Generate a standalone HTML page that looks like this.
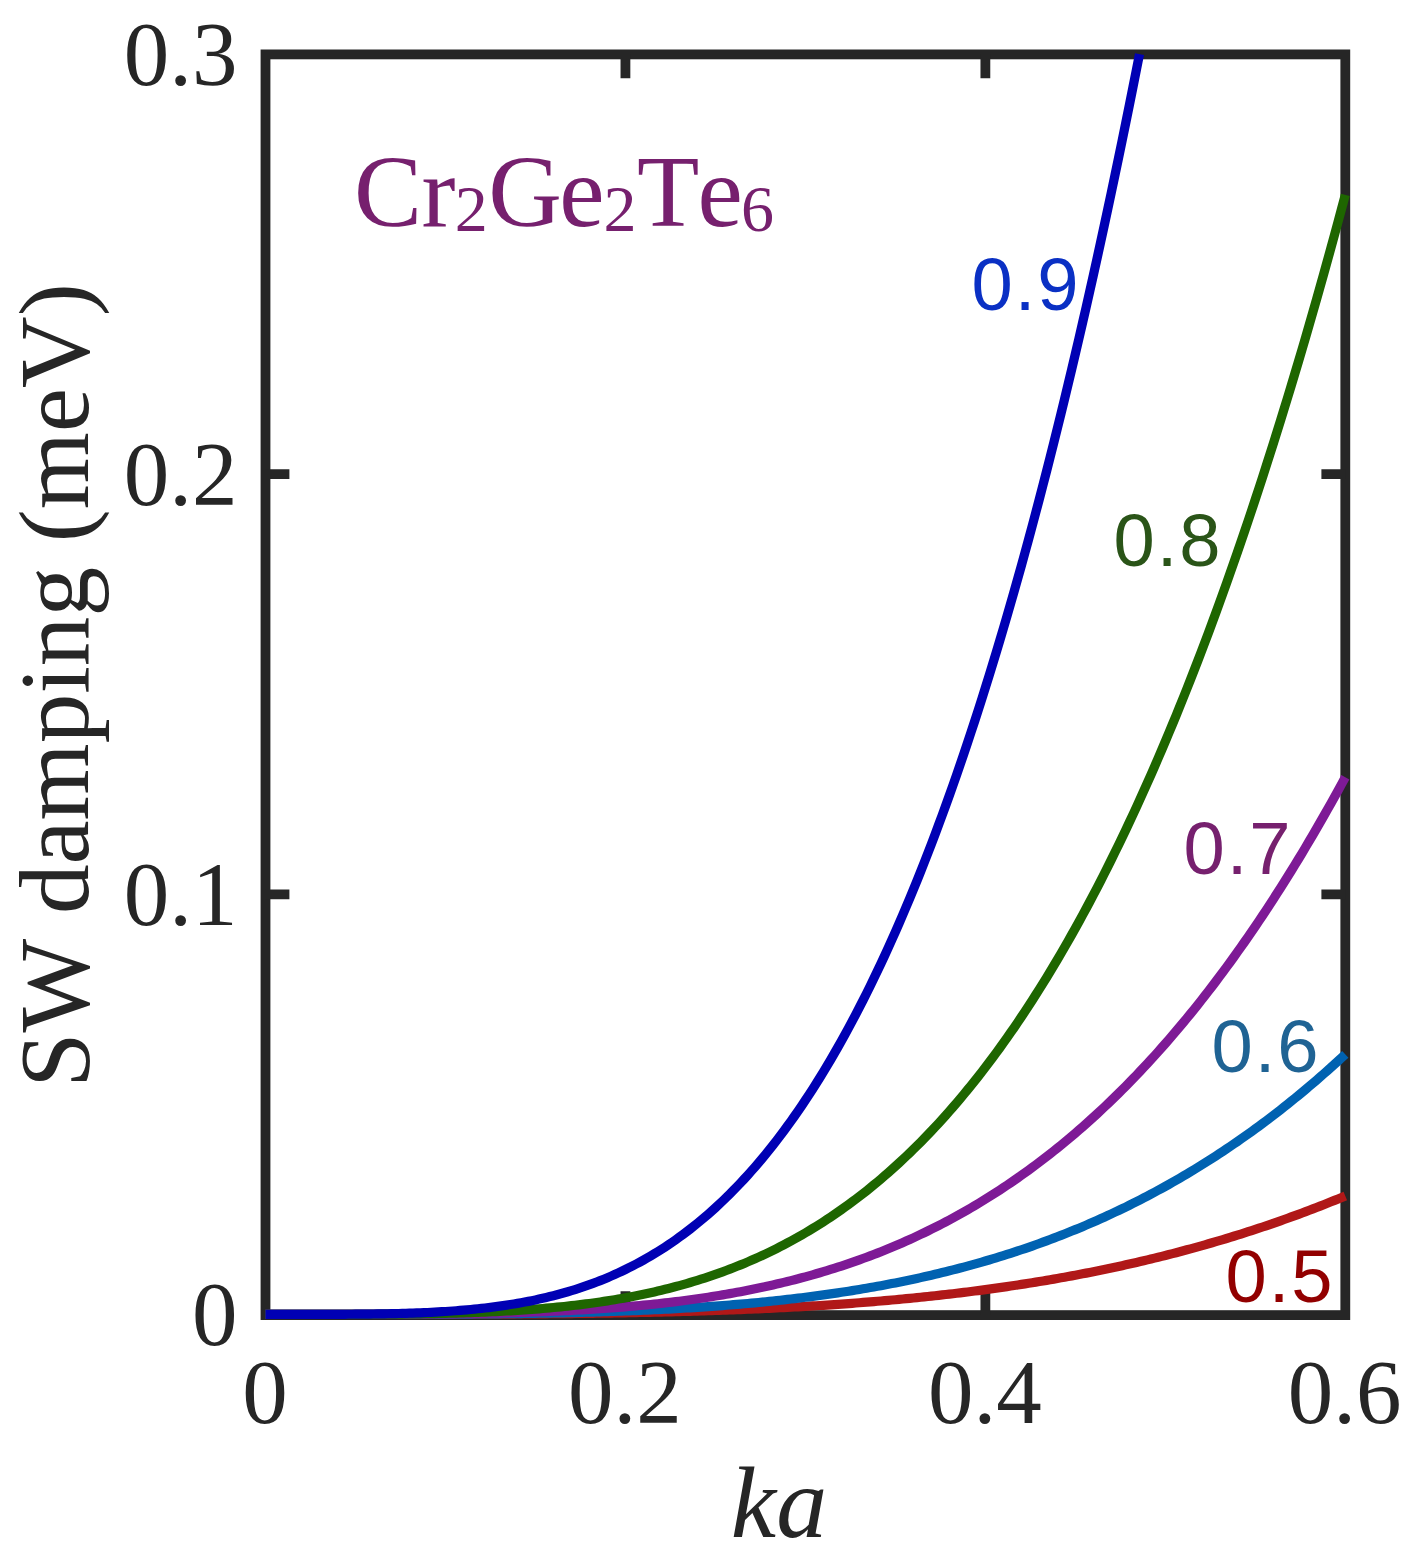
<!DOCTYPE html>
<html><head><meta charset="utf-8"><title>SW damping</title>
<style>html,body{margin:0;padding:0;background:#fff}svg{display:block}text{white-space:pre;font-kerning:none}</style></head><body>
<svg width="1415" height="1557" viewBox="0 0 1415 1557">
<rect width="1415" height="1557" fill="#fff"/>
<rect x="265.5" y="54.4" width="1079.8" height="1260.7" fill="none" stroke="#262626" stroke-width="9.8"/>
<path d="M625.43 1315.1 V1291.2 M625.43 54.4 V78.3 M985.37 1315.1 V1291.2 M985.37 54.4 V78.3 M265.5 894.30 H289.4 M1345.3 894.30 H1321.4 M265.5 474.20 H289.4 M1345.3 474.20 H1321.4" stroke="#262626" stroke-width="9.8" fill="none"/>
<path d="M265.50 1314.40 L269.10 1314.40 L272.70 1314.40 L276.30 1314.40 L279.90 1314.40 L283.50 1314.40 L287.10 1314.40 L290.70 1314.40 L294.29 1314.40 L297.89 1314.40 L301.49 1314.40 L305.09 1314.40 L308.69 1314.40 L312.29 1314.40 L315.89 1314.40 L319.49 1314.40 L323.09 1314.40 L326.69 1314.40 L330.29 1314.40 L333.89 1314.40 L337.49 1314.40 L341.09 1314.40 L344.69 1314.40 L348.28 1314.40 L351.88 1314.39 L355.48 1314.39 L359.08 1314.39 L362.68 1314.39 L366.28 1314.39 L369.88 1314.39 L373.48 1314.39 L377.08 1314.39 L380.68 1314.38 L384.28 1314.38 L387.88 1314.38 L391.48 1314.38 L395.08 1314.37 L398.68 1314.37 L402.27 1314.37 L405.87 1314.36 L409.47 1314.36 L413.07 1314.35 L416.67 1314.35 L420.27 1314.34 L423.87 1314.34 L427.47 1314.33 L431.07 1314.33 L434.67 1314.32 L438.27 1314.31 L441.87 1314.31 L445.47 1314.30 L449.07 1314.29 L452.67 1314.28 L456.26 1314.27 L459.86 1314.26 L463.46 1314.25 L467.06 1314.24 L470.66 1314.23 L474.26 1314.22 L477.86 1314.20 L481.46 1314.19 L485.06 1314.18 L488.66 1314.16 L492.26 1314.15 L495.86 1314.13 L499.46 1314.11 L503.06 1314.09 L506.66 1314.07 L510.25 1314.05 L513.85 1314.03 L517.45 1314.01 L521.05 1313.99 L524.65 1313.97 L528.25 1313.94 L531.85 1313.92 L535.45 1313.89 L539.05 1313.86 L542.65 1313.83 L546.25 1313.80 L549.85 1313.77 L553.45 1313.74 L557.05 1313.71 L560.65 1313.67 L564.24 1313.63 L567.84 1313.60 L571.44 1313.56 L575.04 1313.52 L578.64 1313.48 L582.24 1313.43 L585.84 1313.39 L589.44 1313.34 L593.04 1313.30 L596.64 1313.25 L600.24 1313.20 L603.84 1313.14 L607.44 1313.09 L611.04 1313.03 L614.64 1312.98 L618.23 1312.92 L621.83 1312.86 L625.43 1312.79 L629.03 1312.73 L632.63 1312.66 L636.23 1312.59 L639.83 1312.52 L643.43 1312.45 L647.03 1312.38 L650.63 1312.30 L654.23 1312.22 L657.83 1312.14 L661.43 1312.05 L665.03 1311.97 L668.63 1311.88 L672.22 1311.79 L675.82 1311.70 L679.42 1311.60 L683.02 1311.50 L686.62 1311.40 L690.22 1311.30 L693.82 1311.20 L697.42 1311.09 L701.02 1310.98 L704.62 1310.86 L708.22 1310.75 L711.82 1310.63 L715.42 1310.51 L719.02 1310.38 L722.62 1310.25 L726.21 1310.12 L729.81 1309.99 L733.41 1309.85 L737.01 1309.71 L740.61 1309.57 L744.21 1309.42 L747.81 1309.27 L751.41 1309.12 L755.01 1308.96 L758.61 1308.80 L762.21 1308.64 L765.81 1308.47 L769.41 1308.30 L773.01 1308.13 L776.61 1307.95 L780.20 1307.77 L783.80 1307.58 L787.40 1307.40 L791.00 1307.20 L794.60 1307.01 L798.20 1306.81 L801.80 1306.60 L805.40 1306.39 L809.00 1306.18 L812.60 1305.96 L816.20 1305.74 L819.80 1305.52 L823.40 1305.29 L827.00 1305.05 L830.60 1304.81 L834.19 1304.57 L837.79 1304.32 L841.39 1304.07 L844.99 1303.82 L848.59 1303.55 L852.19 1303.29 L855.79 1303.02 L859.39 1302.74 L862.99 1302.46 L866.59 1302.18 L870.19 1301.89 L873.79 1301.59 L877.39 1301.29 L880.99 1300.98 L884.59 1300.67 L888.18 1300.36 L891.78 1300.04 L895.38 1299.71 L898.98 1299.38 L902.58 1299.04 L906.18 1298.69 L909.78 1298.35 L913.38 1297.99 L916.98 1297.63 L920.58 1297.26 L924.18 1296.89 L927.78 1296.51 L931.38 1296.13 L934.98 1295.74 L938.58 1295.34 L942.17 1294.94 L945.77 1294.53 L949.37 1294.12 L952.97 1293.70 L956.57 1293.27 L960.17 1292.84 L963.77 1292.40 L967.37 1291.95 L970.97 1291.50 L974.57 1291.04 L978.17 1290.57 L981.77 1290.09 L985.37 1289.61 L988.97 1289.13 L992.57 1288.63 L996.16 1288.13 L999.76 1287.62 L1003.36 1287.11 L1006.96 1286.58 L1010.56 1286.05 L1014.16 1285.52 L1017.76 1284.97 L1021.36 1284.42 L1024.96 1283.86 L1028.56 1283.29 L1032.16 1282.71 L1035.76 1282.13 L1039.36 1281.54 L1042.96 1280.94 L1046.56 1280.34 L1050.15 1279.72 L1053.75 1279.10 L1057.35 1278.47 L1060.95 1277.83 L1064.55 1277.18 L1068.15 1276.53 L1071.75 1275.86 L1075.35 1275.19 L1078.95 1274.51 L1082.55 1273.82 L1086.15 1273.12 L1089.75 1272.42 L1093.35 1271.70 L1096.95 1270.98 L1100.55 1270.24 L1104.14 1269.50 L1107.74 1268.75 L1111.34 1267.99 L1114.94 1267.22 L1118.54 1266.44 L1122.14 1265.65 L1125.74 1264.86 L1129.34 1264.05 L1132.94 1263.23 L1136.54 1262.41 L1140.14 1261.57 L1143.74 1260.73 L1147.34 1259.88 L1150.94 1259.01 L1154.54 1258.14 L1158.13 1257.25 L1161.73 1256.36 L1165.33 1255.45 L1168.93 1254.54 L1172.53 1253.62 L1176.13 1252.68 L1179.73 1251.74 L1183.33 1250.78 L1186.93 1249.81 L1190.53 1248.84 L1194.13 1247.85 L1197.73 1246.85 L1201.33 1245.84 L1204.93 1244.83 L1208.53 1243.79 L1212.12 1242.75 L1215.72 1241.70 L1219.32 1240.64 L1222.92 1239.56 L1226.52 1238.48 L1230.12 1237.38 L1233.72 1236.27 L1237.32 1235.15 L1240.92 1234.02 L1244.52 1232.88 L1248.12 1231.73 L1251.72 1230.56 L1255.32 1229.38 L1258.92 1228.19 L1262.52 1226.99 L1266.11 1225.78 L1269.71 1224.55 L1273.31 1223.31 L1276.91 1222.06 L1280.51 1220.80 L1284.11 1219.53 L1287.71 1218.24 L1291.31 1216.94 L1294.91 1215.63 L1298.51 1214.31 L1302.11 1212.97 L1305.71 1211.62 L1309.31 1210.26 L1312.91 1208.88 L1316.51 1207.50 L1320.10 1206.10 L1323.70 1204.68 L1327.30 1203.25 L1330.90 1201.81 L1334.50 1200.36 L1338.10 1198.89 L1341.70 1197.41 L1345.30 1195.92" stroke="#B01818" stroke-width="9.2" fill="none" stroke-linejoin="round"/>
<path d="M265.50 1314.40 L269.10 1314.40 L272.70 1314.40 L276.30 1314.40 L279.90 1314.40 L283.50 1314.40 L287.10 1314.40 L290.70 1314.40 L294.29 1314.40 L297.89 1314.40 L301.49 1314.40 L305.09 1314.40 L308.69 1314.40 L312.29 1314.40 L315.89 1314.40 L319.49 1314.40 L323.09 1314.40 L326.69 1314.40 L330.29 1314.40 L333.89 1314.40 L337.49 1314.39 L341.09 1314.39 L344.69 1314.39 L348.28 1314.39 L351.88 1314.39 L355.48 1314.39 L359.08 1314.38 L362.68 1314.38 L366.28 1314.38 L369.88 1314.38 L373.48 1314.37 L377.08 1314.37 L380.68 1314.36 L384.28 1314.36 L387.88 1314.35 L391.48 1314.35 L395.08 1314.34 L398.68 1314.34 L402.27 1314.33 L405.87 1314.32 L409.47 1314.31 L413.07 1314.30 L416.67 1314.29 L420.27 1314.28 L423.87 1314.27 L427.47 1314.26 L431.07 1314.25 L434.67 1314.23 L438.27 1314.22 L441.87 1314.20 L445.47 1314.19 L449.07 1314.17 L452.67 1314.15 L456.26 1314.13 L459.86 1314.11 L463.46 1314.09 L467.06 1314.06 L470.66 1314.04 L474.26 1314.01 L477.86 1313.98 L481.46 1313.96 L485.06 1313.92 L488.66 1313.89 L492.26 1313.86 L495.86 1313.82 L499.46 1313.79 L503.06 1313.75 L506.66 1313.71 L510.25 1313.67 L513.85 1313.62 L517.45 1313.58 L521.05 1313.53 L524.65 1313.48 L528.25 1313.43 L531.85 1313.37 L535.45 1313.32 L539.05 1313.26 L542.65 1313.20 L546.25 1313.13 L549.85 1313.07 L553.45 1313.00 L557.05 1312.93 L560.65 1312.85 L564.24 1312.78 L567.84 1312.70 L571.44 1312.61 L575.04 1312.53 L578.64 1312.44 L582.24 1312.35 L585.84 1312.25 L589.44 1312.16 L593.04 1312.06 L596.64 1311.95 L600.24 1311.84 L603.84 1311.73 L607.44 1311.62 L611.04 1311.50 L614.64 1311.38 L618.23 1311.25 L621.83 1311.12 L625.43 1310.99 L629.03 1310.85 L632.63 1310.71 L636.23 1310.56 L639.83 1310.41 L643.43 1310.25 L647.03 1310.09 L650.63 1309.93 L654.23 1309.76 L657.83 1309.59 L661.43 1309.41 L665.03 1309.23 L668.63 1309.04 L672.22 1308.85 L675.82 1308.65 L679.42 1308.44 L683.02 1308.24 L686.62 1308.02 L690.22 1307.80 L693.82 1307.58 L697.42 1307.35 L701.02 1307.11 L704.62 1306.87 L708.22 1306.62 L711.82 1306.36 L715.42 1306.10 L719.02 1305.83 L722.62 1305.56 L726.21 1305.28 L729.81 1305.00 L733.41 1304.70 L737.01 1304.40 L740.61 1304.10 L744.21 1303.78 L747.81 1303.46 L751.41 1303.13 L755.01 1302.80 L758.61 1302.46 L762.21 1302.11 L765.81 1301.75 L769.41 1301.38 L773.01 1301.01 L776.61 1300.63 L780.20 1300.24 L783.80 1299.84 L787.40 1299.44 L791.00 1299.03 L794.60 1298.60 L798.20 1298.17 L801.80 1297.73 L805.40 1297.29 L809.00 1296.83 L812.60 1296.36 L816.20 1295.89 L819.80 1295.40 L823.40 1294.91 L827.00 1294.41 L830.60 1293.89 L834.19 1293.37 L837.79 1292.84 L841.39 1292.30 L844.99 1291.75 L848.59 1291.18 L852.19 1290.61 L855.79 1290.03 L859.39 1289.44 L862.99 1288.83 L866.59 1288.22 L870.19 1287.59 L873.79 1286.95 L877.39 1286.31 L880.99 1285.65 L884.59 1284.98 L888.18 1284.29 L891.78 1283.60 L895.38 1282.89 L898.98 1282.18 L902.58 1281.45 L906.18 1280.71 L909.78 1279.95 L913.38 1279.19 L916.98 1278.41 L920.58 1277.62 L924.18 1276.81 L927.78 1275.99 L931.38 1275.16 L934.98 1274.32 L938.58 1273.46 L942.17 1272.59 L945.77 1271.71 L949.37 1270.81 L952.97 1269.90 L956.57 1268.97 L960.17 1268.03 L963.77 1267.08 L967.37 1266.11 L970.97 1265.13 L974.57 1264.13 L978.17 1263.11 L981.77 1262.09 L985.37 1261.04 L988.97 1259.99 L992.57 1258.91 L996.16 1257.82 L999.76 1256.72 L1003.36 1255.60 L1006.96 1254.46 L1010.56 1253.31 L1014.16 1252.14 L1017.76 1250.95 L1021.36 1249.75 L1024.96 1248.53 L1028.56 1247.30 L1032.16 1246.04 L1035.76 1244.77 L1039.36 1243.49 L1042.96 1242.18 L1046.56 1240.86 L1050.15 1239.52 L1053.75 1238.16 L1057.35 1236.79 L1060.95 1235.39 L1064.55 1233.98 L1068.15 1232.55 L1071.75 1231.10 L1075.35 1229.63 L1078.95 1228.15 L1082.55 1226.64 L1086.15 1225.11 L1089.75 1223.57 L1093.35 1222.00 L1096.95 1220.42 L1100.55 1218.82 L1104.14 1217.19 L1107.74 1215.55 L1111.34 1213.88 L1114.94 1212.20 L1118.54 1210.49 L1122.14 1208.77 L1125.74 1207.02 L1129.34 1205.25 L1132.94 1203.46 L1136.54 1201.65 L1140.14 1199.82 L1143.74 1197.96 L1147.34 1196.09 L1150.94 1194.19 L1154.54 1192.27 L1158.13 1190.32 L1161.73 1188.36 L1165.33 1186.37 L1168.93 1184.36 L1172.53 1182.32 L1176.13 1180.27 L1179.73 1178.19 L1183.33 1176.08 L1186.93 1173.95 L1190.53 1171.80 L1194.13 1169.63 L1197.73 1167.43 L1201.33 1165.20 L1204.93 1162.95 L1208.53 1160.68 L1212.12 1158.38 L1215.72 1156.06 L1219.32 1153.71 L1222.92 1151.34 L1226.52 1148.94 L1230.12 1146.51 L1233.72 1144.06 L1237.32 1141.59 L1240.92 1139.08 L1244.52 1136.55 L1248.12 1134.00 L1251.72 1131.42 L1255.32 1128.81 L1258.92 1126.17 L1262.52 1123.51 L1266.11 1120.82 L1269.71 1118.10 L1273.31 1115.35 L1276.91 1112.58 L1280.51 1109.78 L1284.11 1106.95 L1287.71 1104.09 L1291.31 1101.20 L1294.91 1098.29 L1298.51 1095.34 L1302.11 1092.37 L1305.71 1089.37 L1309.31 1086.34 L1312.91 1083.27 L1316.51 1080.18 L1320.10 1077.06 L1323.70 1073.91 L1327.30 1070.73 L1330.90 1067.52 L1334.50 1064.28 L1338.10 1061.00 L1341.70 1057.70 L1345.30 1054.36" stroke="#0062B1" stroke-width="9.2" fill="none" stroke-linejoin="round"/>
<path d="M265.50 1314.40 L269.10 1314.40 L272.70 1314.40 L276.30 1314.40 L279.90 1314.40 L283.50 1314.40 L287.10 1314.40 L290.70 1314.40 L294.29 1314.40 L297.89 1314.40 L301.49 1314.40 L305.09 1314.40 L308.69 1314.40 L312.29 1314.40 L315.89 1314.40 L319.49 1314.40 L323.09 1314.39 L326.69 1314.39 L330.29 1314.39 L333.89 1314.39 L337.49 1314.39 L341.09 1314.38 L344.69 1314.38 L348.28 1314.38 L351.88 1314.37 L355.48 1314.37 L359.08 1314.36 L362.68 1314.36 L366.28 1314.35 L369.88 1314.35 L373.48 1314.34 L377.08 1314.33 L380.68 1314.32 L384.28 1314.31 L387.88 1314.30 L391.48 1314.28 L395.08 1314.27 L398.68 1314.26 L402.27 1314.24 L405.87 1314.22 L409.47 1314.20 L413.07 1314.18 L416.67 1314.16 L420.27 1314.14 L423.87 1314.11 L427.47 1314.08 L431.07 1314.06 L434.67 1314.02 L438.27 1313.99 L441.87 1313.96 L445.47 1313.92 L449.07 1313.88 L452.67 1313.84 L456.26 1313.79 L459.86 1313.75 L463.46 1313.70 L467.06 1313.64 L470.66 1313.59 L474.26 1313.53 L477.86 1313.47 L481.46 1313.40 L485.06 1313.34 L488.66 1313.27 L492.26 1313.19 L495.86 1313.11 L499.46 1313.03 L503.06 1312.94 L506.66 1312.86 L510.25 1312.76 L513.85 1312.66 L517.45 1312.56 L521.05 1312.45 L524.65 1312.34 L528.25 1312.23 L531.85 1312.11 L535.45 1311.98 L539.05 1311.85 L542.65 1311.71 L546.25 1311.57 L549.85 1311.42 L553.45 1311.27 L557.05 1311.11 L560.65 1310.95 L564.24 1310.78 L567.84 1310.60 L571.44 1310.42 L575.04 1310.23 L578.64 1310.03 L582.24 1309.83 L585.84 1309.62 L589.44 1309.40 L593.04 1309.18 L596.64 1308.95 L600.24 1308.71 L603.84 1308.46 L607.44 1308.21 L611.04 1307.94 L614.64 1307.67 L618.23 1307.39 L621.83 1307.11 L625.43 1306.81 L629.03 1306.50 L632.63 1306.19 L636.23 1305.87 L639.83 1305.53 L643.43 1305.19 L647.03 1304.84 L650.63 1304.48 L654.23 1304.10 L657.83 1303.72 L661.43 1303.33 L665.03 1302.93 L668.63 1302.51 L672.22 1302.09 L675.82 1301.65 L679.42 1301.20 L683.02 1300.74 L686.62 1300.27 L690.22 1299.79 L693.82 1299.29 L697.42 1298.79 L701.02 1298.27 L704.62 1297.73 L708.22 1297.19 L711.82 1296.63 L715.42 1296.06 L719.02 1295.47 L722.62 1294.87 L726.21 1294.26 L729.81 1293.63 L733.41 1292.99 L737.01 1292.33 L740.61 1291.66 L744.21 1290.98 L747.81 1290.27 L751.41 1289.56 L755.01 1288.83 L758.61 1288.08 L762.21 1287.31 L765.81 1286.54 L769.41 1285.74 L773.01 1284.93 L776.61 1284.10 L780.20 1283.25 L783.80 1282.38 L787.40 1281.50 L791.00 1280.60 L794.60 1279.69 L798.20 1278.75 L801.80 1277.80 L805.40 1276.82 L809.00 1275.83 L812.60 1274.82 L816.20 1273.79 L819.80 1272.74 L823.40 1271.67 L827.00 1270.58 L830.60 1269.47 L834.19 1268.34 L837.79 1267.19 L841.39 1266.02 L844.99 1264.83 L848.59 1263.61 L852.19 1262.38 L855.79 1261.12 L859.39 1259.84 L862.99 1258.54 L866.59 1257.21 L870.19 1255.86 L873.79 1254.49 L877.39 1253.10 L880.99 1251.68 L884.59 1250.24 L888.18 1248.77 L891.78 1247.28 L895.38 1245.77 L898.98 1244.23 L902.58 1242.67 L906.18 1241.08 L909.78 1239.46 L913.38 1237.82 L916.98 1236.15 L920.58 1234.46 L924.18 1232.74 L927.78 1230.99 L931.38 1229.22 L934.98 1227.42 L938.58 1225.59 L942.17 1223.74 L945.77 1221.85 L949.37 1219.94 L952.97 1218.00 L956.57 1216.03 L960.17 1214.03 L963.77 1212.00 L967.37 1209.94 L970.97 1207.86 L974.57 1205.74 L978.17 1203.59 L981.77 1201.41 L985.37 1199.20 L988.97 1196.96 L992.57 1194.69 L996.16 1192.39 L999.76 1190.05 L1003.36 1187.68 L1006.96 1185.28 L1010.56 1182.85 L1014.16 1180.38 L1017.76 1177.88 L1021.36 1175.35 L1024.96 1172.79 L1028.56 1170.19 L1032.16 1167.55 L1035.76 1164.88 L1039.36 1162.18 L1042.96 1159.44 L1046.56 1156.67 L1050.15 1153.86 L1053.75 1151.01 L1057.35 1148.13 L1060.95 1145.21 L1064.55 1142.26 L1068.15 1139.27 L1071.75 1136.24 L1075.35 1133.17 L1078.95 1130.07 L1082.55 1126.93 L1086.15 1123.75 L1089.75 1120.53 L1093.35 1117.27 L1096.95 1113.98 L1100.55 1110.64 L1104.14 1107.27 L1107.74 1103.86 L1111.34 1100.40 L1114.94 1096.91 L1118.54 1093.37 L1122.14 1089.79 L1125.74 1086.18 L1129.34 1082.52 L1132.94 1078.82 L1136.54 1075.08 L1140.14 1071.29 L1143.74 1067.46 L1147.34 1063.59 L1150.94 1059.68 L1154.54 1055.73 L1158.13 1051.73 L1161.73 1047.68 L1165.33 1043.60 L1168.93 1039.46 L1172.53 1035.29 L1176.13 1031.07 L1179.73 1026.80 L1183.33 1022.49 L1186.93 1018.13 L1190.53 1013.73 L1194.13 1009.28 L1197.73 1004.78 L1201.33 1000.24 L1204.93 995.65 L1208.53 991.02 L1212.12 986.33 L1215.72 981.60 L1219.32 976.82 L1222.92 971.99 L1226.52 967.11 L1230.12 962.19 L1233.72 957.21 L1237.32 952.19 L1240.92 947.12 L1244.52 941.99 L1248.12 936.82 L1251.72 931.60 L1255.32 926.32 L1258.92 921.00 L1262.52 915.62 L1266.11 910.19 L1269.71 904.71 L1273.31 899.18 L1276.91 893.59 L1280.51 887.96 L1284.11 882.27 L1287.71 876.53 L1291.31 870.73 L1294.91 864.88 L1298.51 858.98 L1302.11 853.02 L1305.71 847.01 L1309.31 840.95 L1312.91 834.83 L1316.51 828.65 L1320.10 822.42 L1323.70 816.13 L1327.30 809.79 L1330.90 803.39 L1334.50 796.94 L1338.10 790.43 L1341.70 783.86 L1345.30 777.24" stroke="#7E1A96" stroke-width="9.2" fill="none" stroke-linejoin="round"/>
<path d="M265.50 1314.40 L269.10 1314.40 L272.70 1314.40 L276.30 1314.40 L279.90 1314.40 L283.50 1314.40 L287.10 1314.40 L290.70 1314.40 L294.29 1314.40 L297.89 1314.40 L301.49 1314.40 L305.09 1314.40 L308.69 1314.40 L312.29 1314.40 L315.89 1314.39 L319.49 1314.39 L323.09 1314.39 L326.69 1314.39 L330.29 1314.38 L333.89 1314.38 L337.49 1314.37 L341.09 1314.37 L344.69 1314.36 L348.28 1314.35 L351.88 1314.34 L355.48 1314.33 L359.08 1314.32 L362.68 1314.31 L366.28 1314.30 L369.88 1314.28 L373.48 1314.26 L377.08 1314.24 L380.68 1314.22 L384.28 1314.20 L387.88 1314.17 L391.48 1314.15 L395.08 1314.11 L398.68 1314.08 L402.27 1314.05 L405.87 1314.01 L409.47 1313.97 L413.07 1313.92 L416.67 1313.87 L420.27 1313.82 L423.87 1313.76 L427.47 1313.70 L431.07 1313.64 L434.67 1313.57 L438.27 1313.50 L441.87 1313.42 L445.47 1313.34 L449.07 1313.25 L452.67 1313.16 L456.26 1313.06 L459.86 1312.96 L463.46 1312.85 L467.06 1312.74 L470.66 1312.62 L474.26 1312.49 L477.86 1312.35 L481.46 1312.21 L485.06 1312.06 L488.66 1311.91 L492.26 1311.74 L495.86 1311.57 L499.46 1311.39 L503.06 1311.20 L506.66 1311.00 L510.25 1310.80 L513.85 1310.58 L517.45 1310.36 L521.05 1310.12 L524.65 1309.88 L528.25 1309.63 L531.85 1309.36 L535.45 1309.08 L539.05 1308.80 L542.65 1308.50 L546.25 1308.19 L549.85 1307.87 L553.45 1307.53 L557.05 1307.18 L560.65 1306.83 L564.24 1306.45 L567.84 1306.07 L571.44 1305.67 L575.04 1305.25 L578.64 1304.82 L582.24 1304.38 L585.84 1303.92 L589.44 1303.45 L593.04 1302.96 L596.64 1302.45 L600.24 1301.93 L603.84 1301.39 L607.44 1300.83 L611.04 1300.26 L614.64 1299.67 L618.23 1299.06 L621.83 1298.43 L625.43 1297.78 L629.03 1297.12 L632.63 1296.43 L636.23 1295.73 L639.83 1295.00 L643.43 1294.26 L647.03 1293.49 L650.63 1292.70 L654.23 1291.89 L657.83 1291.06 L661.43 1290.20 L665.03 1289.32 L668.63 1288.42 L672.22 1287.50 L675.82 1286.55 L679.42 1285.57 L683.02 1284.58 L686.62 1283.55 L690.22 1282.50 L693.82 1281.43 L697.42 1280.33 L701.02 1279.20 L704.62 1278.04 L708.22 1276.86 L711.82 1275.64 L715.42 1274.40 L719.02 1273.13 L722.62 1271.84 L726.21 1270.51 L729.81 1269.15 L733.41 1267.76 L737.01 1266.34 L740.61 1264.89 L744.21 1263.40 L747.81 1261.88 L751.41 1260.34 L755.01 1258.75 L758.61 1257.14 L762.21 1255.49 L765.81 1253.80 L769.41 1252.08 L773.01 1250.33 L776.61 1248.54 L780.20 1246.71 L783.80 1244.84 L787.40 1242.94 L791.00 1241.00 L794.60 1239.03 L798.20 1237.01 L801.80 1234.95 L805.40 1232.86 L809.00 1230.73 L812.60 1228.55 L816.20 1226.33 L819.80 1224.08 L823.40 1221.78 L827.00 1219.44 L830.60 1217.05 L834.19 1214.63 L837.79 1212.15 L841.39 1209.64 L844.99 1207.08 L848.59 1204.47 L852.19 1201.82 L855.79 1199.13 L859.39 1196.38 L862.99 1193.59 L866.59 1190.76 L870.19 1187.87 L873.79 1184.94 L877.39 1181.95 L880.99 1178.92 L884.59 1175.84 L888.18 1172.70 L891.78 1169.52 L895.38 1166.28 L898.98 1163.00 L902.58 1159.66 L906.18 1156.27 L909.78 1152.82 L913.38 1149.32 L916.98 1145.77 L920.58 1142.16 L924.18 1138.50 L927.78 1134.78 L931.38 1131.00 L934.98 1127.17 L938.58 1123.28 L942.17 1119.33 L945.77 1115.33 L949.37 1111.26 L952.97 1107.14 L956.57 1102.96 L960.17 1098.71 L963.77 1094.41 L967.37 1090.04 L970.97 1085.62 L974.57 1081.13 L978.17 1076.58 L981.77 1071.96 L985.37 1067.29 L988.97 1062.54 L992.57 1057.74 L996.16 1052.86 L999.76 1047.93 L1003.36 1042.92 L1006.96 1037.85 L1010.56 1032.71 L1014.16 1027.51 L1017.76 1022.24 L1021.36 1016.90 L1024.96 1011.48 L1028.56 1006.00 L1032.16 1000.45 L1035.76 994.83 L1039.36 989.14 L1042.96 983.38 L1046.56 977.54 L1050.15 971.63 L1053.75 965.65 L1057.35 959.60 L1060.95 953.47 L1064.55 947.27 L1068.15 940.99 L1071.75 934.64 L1075.35 928.21 L1078.95 921.70 L1082.55 915.12 L1086.15 908.46 L1089.75 901.72 L1093.35 894.90 L1096.95 888.01 L1100.55 881.03 L1104.14 873.98 L1107.74 866.84 L1111.34 859.63 L1114.94 852.33 L1118.54 844.95 L1122.14 837.49 L1125.74 829.95 L1129.34 822.32 L1132.94 814.61 L1136.54 806.82 L1140.14 798.94 L1143.74 790.97 L1147.34 782.92 L1150.94 774.79 L1154.54 766.56 L1158.13 758.25 L1161.73 749.86 L1165.33 741.37 L1168.93 732.80 L1172.53 724.14 L1176.13 715.38 L1179.73 706.54 L1183.33 697.61 L1186.93 688.59 L1190.53 679.47 L1194.13 670.27 L1197.73 660.97 L1201.33 651.58 L1204.93 642.10 L1208.53 632.52 L1212.12 622.85 L1215.72 613.08 L1219.32 603.22 L1222.92 593.26 L1226.52 583.21 L1230.12 573.06 L1233.72 562.82 L1237.32 552.48 L1240.92 542.04 L1244.52 531.50 L1248.12 520.86 L1251.72 510.13 L1255.32 499.29 L1258.92 488.36 L1262.52 477.32 L1266.11 466.19 L1269.71 454.95 L1273.31 443.61 L1276.91 432.17 L1280.51 420.63 L1284.11 408.98 L1287.71 397.24 L1291.31 385.38 L1294.91 373.43 L1298.51 361.36 L1302.11 349.20 L1305.71 336.92 L1309.31 324.55 L1312.91 312.06 L1316.51 299.47 L1320.10 286.77 L1323.70 273.97 L1327.30 261.05 L1330.90 248.03 L1334.50 234.90 L1338.10 221.66 L1341.70 208.31 L1345.30 194.85" stroke="#1E6600" stroke-width="9.2" fill="none" stroke-linejoin="round"/>
<path d="M265.50 1314.40 L269.10 1314.40 L272.70 1314.40 L276.30 1314.40 L279.90 1314.40 L283.50 1314.40 L287.10 1314.40 L290.70 1314.40 L294.29 1314.40 L297.89 1314.40 L301.49 1314.40 L305.09 1314.39 L308.69 1314.39 L312.29 1314.39 L315.89 1314.38 L319.49 1314.38 L323.09 1314.37 L326.69 1314.36 L330.29 1314.35 L333.89 1314.34 L337.49 1314.32 L341.09 1314.31 L344.69 1314.29 L348.28 1314.27 L351.88 1314.24 L355.48 1314.22 L359.08 1314.19 L362.68 1314.15 L366.28 1314.11 L369.88 1314.07 L373.48 1314.02 L377.08 1313.97 L380.68 1313.91 L384.28 1313.84 L387.88 1313.77 L391.48 1313.70 L395.08 1313.61 L398.68 1313.52 L402.27 1313.42 L405.87 1313.32 L409.47 1313.20 L413.07 1313.08 L416.67 1312.94 L420.27 1312.80 L423.87 1312.65 L427.47 1312.48 L431.07 1312.31 L434.67 1312.12 L438.27 1311.92 L441.87 1311.71 L445.47 1311.49 L449.07 1311.25 L452.67 1311.00 L456.26 1310.73 L459.86 1310.45 L463.46 1310.15 L467.06 1309.83 L470.66 1309.50 L474.26 1309.15 L477.86 1308.78 L481.46 1308.40 L485.06 1307.99 L488.66 1307.56 L492.26 1307.11 L495.86 1306.65 L499.46 1306.16 L503.06 1305.64 L506.66 1305.11 L510.25 1304.54 L513.85 1303.96 L517.45 1303.35 L521.05 1302.71 L524.65 1302.05 L528.25 1301.36 L531.85 1300.64 L535.45 1299.89 L539.05 1299.11 L542.65 1298.30 L546.25 1297.46 L549.85 1296.59 L553.45 1295.69 L557.05 1294.75 L560.65 1293.78 L564.24 1292.77 L567.84 1291.73 L571.44 1290.65 L575.04 1289.53 L578.64 1288.38 L582.24 1287.18 L585.84 1285.95 L589.44 1284.67 L593.04 1283.36 L596.64 1282.00 L600.24 1280.60 L603.84 1279.15 L607.44 1277.66 L611.04 1276.13 L614.64 1274.55 L618.23 1272.92 L621.83 1271.24 L625.43 1269.51 L629.03 1267.73 L632.63 1265.91 L636.23 1264.03 L639.83 1262.09 L643.43 1260.11 L647.03 1258.07 L650.63 1255.97 L654.23 1253.82 L657.83 1251.61 L661.43 1249.34 L665.03 1247.02 L668.63 1244.63 L672.22 1242.18 L675.82 1239.67 L679.42 1237.10 L683.02 1234.47 L686.62 1231.77 L690.22 1229.00 L693.82 1226.17 L697.42 1223.27 L701.02 1220.30 L704.62 1217.26 L708.22 1214.16 L711.82 1210.98 L715.42 1207.73 L719.02 1204.40 L722.62 1201.01 L726.21 1197.53 L729.81 1193.98 L733.41 1190.36 L737.01 1186.65 L740.61 1182.87 L744.21 1179.01 L747.81 1175.06 L751.41 1171.04 L755.01 1166.93 L758.61 1162.74 L762.21 1158.46 L765.81 1154.10 L769.41 1149.65 L773.01 1145.12 L776.61 1140.49 L780.20 1135.78 L783.80 1130.97 L787.40 1126.07 L791.00 1121.08 L794.60 1116.00 L798.20 1110.82 L801.80 1105.55 L805.40 1100.18 L809.00 1094.71 L812.60 1089.15 L816.20 1083.49 L819.80 1077.72 L823.40 1071.86 L827.00 1065.89 L830.60 1059.82 L834.19 1053.64 L837.79 1047.36 L841.39 1040.97 L844.99 1034.48 L848.59 1027.88 L852.19 1021.17 L855.79 1014.35 L859.39 1007.42 L862.99 1000.37 L866.59 993.22 L870.19 985.95 L873.79 978.56 L877.39 971.06 L880.99 963.45 L884.59 955.71 L888.18 947.86 L891.78 939.89 L895.38 931.80 L898.98 923.58 L902.58 915.25 L906.18 906.79 L909.78 898.20 L913.38 889.50 L916.98 880.66 L920.58 871.70 L924.18 862.61 L927.78 853.39 L931.38 844.05 L934.98 834.57 L938.58 824.96 L942.17 815.22 L945.77 805.35 L949.37 795.34 L952.97 785.19 L956.57 774.91 L960.17 764.50 L963.77 753.94 L967.37 743.25 L970.97 732.42 L974.57 721.45 L978.17 710.33 L981.77 699.08 L985.37 687.68 L988.97 676.14 L992.57 664.45 L996.16 652.62 L999.76 640.64 L1003.36 628.52 L1006.96 616.25 L1010.56 603.82 L1014.16 591.25 L1017.76 578.53 L1021.36 565.66 L1024.96 552.63 L1028.56 539.45 L1032.16 526.12 L1035.76 512.64 L1039.36 498.99 L1042.96 485.20 L1046.56 471.24 L1050.15 457.13 L1053.75 442.86 L1057.35 428.43 L1060.95 413.84 L1064.55 399.09 L1068.15 384.17 L1071.75 369.10 L1075.35 353.86 L1078.95 338.46 L1082.55 322.89 L1086.15 307.16 L1089.75 291.26 L1093.35 275.20 L1096.95 258.97 L1100.55 242.57 L1104.14 226.00 L1107.74 209.26 L1111.34 192.35 L1114.94 175.27 L1118.54 158.01 L1122.14 140.59 L1125.74 122.99 L1129.34 105.22 L1132.94 87.27 L1136.54 69.15 L1139.50 54.10" stroke="#0000B4" stroke-width="9.2" fill="none" stroke-linejoin="round"/>
<text x="237.4" y="84.7" text-anchor="end" font-family="'Liberation Serif', serif" font-size="91" fill="#262626">0.3</text>
<text x="237.4" y="504.8" text-anchor="end" font-family="'Liberation Serif', serif" font-size="91" fill="#262626">0.2</text>
<text x="237.4" y="924.9" text-anchor="end" font-family="'Liberation Serif', serif" font-size="91" fill="#262626">0.1</text>
<text x="237.4" y="1345.0" text-anchor="end" font-family="'Liberation Serif', serif" font-size="91" fill="#262626">0</text>
<text x="264.9" y="1423.4" text-anchor="middle" font-family="'Liberation Serif', serif" font-size="91" fill="#262626">0</text>
<text x="624.8" y="1423.4" text-anchor="middle" font-family="'Liberation Serif', serif" font-size="91" fill="#262626">0.2</text>
<text x="984.8" y="1423.4" text-anchor="middle" font-family="'Liberation Serif', serif" font-size="91" fill="#262626">0.4</text>
<text x="1344.7" y="1423.4" text-anchor="middle" font-family="'Liberation Serif', serif" font-size="91" fill="#262626">0.6</text>
<text x="779.0" y="1536.7" text-anchor="middle" font-family="'Liberation Serif', serif" font-style="italic" font-size="102" fill="#262626">ka</text>
<text transform="translate(87.5 685.5) rotate(-90)" text-anchor="middle" font-family="'Liberation Serif', serif" font-size="99.2" fill="#262626">SW damping (meV)</text>
<text font-family="'Liberation Serif', serif" fill="#76206E"><tspan x="354.0" y="225.7" font-size="102">C</tspan><tspan x="421.6" y="225.7" font-size="102">r</tspan><tspan x="454.7" y="231.3" font-size="66">2</tspan><tspan x="488.2" y="225.7" font-size="102">G</tspan><tspan x="559.2" y="225.7" font-size="102">e</tspan><tspan x="603.6" y="231.3" font-size="66">2</tspan><tspan x="637.0" y="225.7" font-size="102">T</tspan><tspan x="697.6" y="225.7" font-size="102">e</tspan><tspan x="741.0" y="231.3" font-size="66">6</tspan></text>
<text x="971.4" y="310.2" font-family="'Liberation Sans', sans-serif" font-size="74.2" letter-spacing="2" fill="#0A30C4">0.9</text>
<text x="1113.5" y="566.3" font-family="'Liberation Sans', sans-serif" font-size="74.2" letter-spacing="2" fill="#2A5418">0.8</text>
<text x="1183.5" y="873.9" font-family="'Liberation Sans', sans-serif" font-size="74.2" letter-spacing="2" fill="#76206E">0.7</text>
<text x="1211.4" y="1072.3" font-family="'Liberation Sans', sans-serif" font-size="74.2" letter-spacing="2" fill="#1F6394">0.6</text>
<text x="1225.4" y="1301.7" font-family="'Liberation Sans', sans-serif" font-size="74.2" letter-spacing="2" fill="#920000">0.5</text>
</svg></body></html>
